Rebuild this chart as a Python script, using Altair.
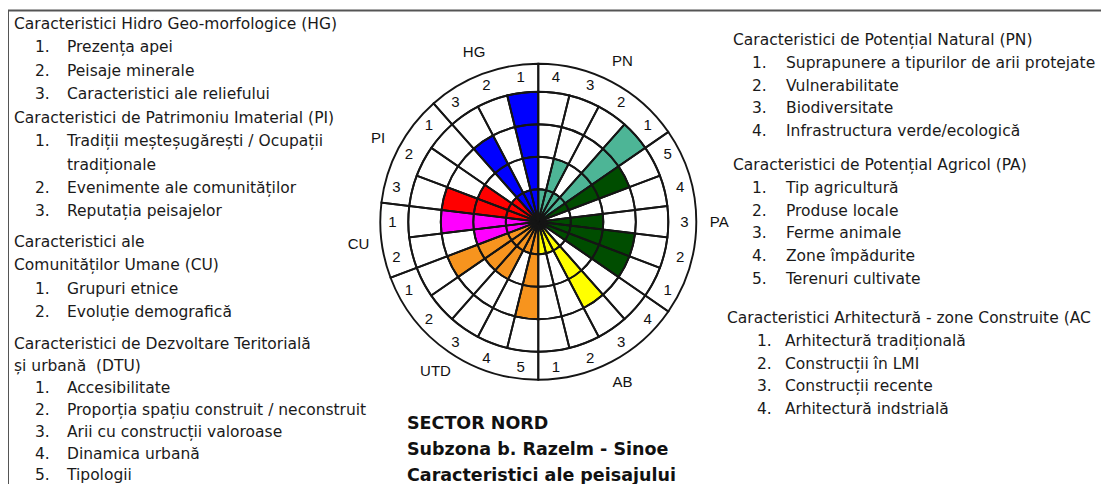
import math
import altair as alt
import pandas as pd

# ---------------- data ----------------
# groups clockwise from 12 o'clock
groups = ["PN", "PA", "AB", "UTD", "CU", "PI", "HG"]
group_colors = ["#4db596", "#004d00", "#ffff00", "#f7941e", "#ff00ff", "#ff0000", "#0000ff"]

# numbers printed in the outer ring, clockwise
pn_numbers = [4, 3, 2, 1]
pa_numbers = [5, 4, 3, 2, 1]
ab_numbers = [4, 3, 2, 1]
utd_numbers = [5, 4, 3, 2, 1]
cu_numbers = [2, 1]
pi_numbers = [3, 2, 1]
hg_numbers = [3, 2, 1]

# score (0-4 rings) of every sector, same order
pn_values = [1, 2, 1, 4]
pa_values = [3, 0, 2, 3, 3]
ab_values = [0, 3, 1, 1]
utd_values = [3, 1, 2, 2, 3]
cu_values = [2, 3]
pi_values = [3, 2, 1]
hg_values = [3, 1, 4]

levels = [1, 2, 3, 4]

# legend texts
hg_head = ["Caracteristici Hidro Geo-morfologice (HG)"]
hg_items = [["Prezența apei"], ["Peisaje minerale"], ["Caracteristici ale reliefului"]]
pi_head = ["Caracteristici de Patrimoniu Imaterial (PI)"]
pi_items = [["Tradiții meșteșugărești / Ocupații", "tradiționale"],
            ["Evenimente ale comunităților"], ["Reputația peisajelor"]]
cu_head = ["Caracteristici ale", "Comunităților Umane (CU)"]
cu_items = [["Grupuri etnice"], ["Evoluție demografică"]]
dtu_head = ["Caracteristici de Dezvoltare Teritorială", "și urbană\u00a0 (DTU)"]
dtu_items = [["Accesibilitate"], ["Proporția spațiu construit / neconstruit"],
             ["Arii cu construcții valoroase"], ["Dinamica urbană"], ["Tipologii"]]
pn_head = ["Caracteristici de Potențial Natural (PN)"]
pn_items = [["Suprapunere a tipurilor de arii protejate"], ["Vulnerabilitate"],
            ["Biodiversitate"], ["Infrastructura verde/ecologică"]]
pa_head = ["Caracteristici de Potențial Agricol (PA)"]
pa_items = [["Tip agricultură"], ["Produse locale"], ["Ferme animale"],
            ["Zone împădurite"], ["Terenuri cultivate"]]
ac_head = ["Caracteristici Arhitectură - zone Construite (AC"]
ac_items = [["Arhitectură tradițională"], ["Construcții în LMI"],
            ["Construcții recente"], ["Arhitectură indstrială"]]
title_lines = ["SECTOR NORD", "Subzona b. Razelm - Sinoe", "Caracteristici ale peisajului"]

# ---------------- tables ----------------
all_numbers = [pn_numbers, pa_numbers, ab_numbers, utd_numbers, cu_numbers, pi_numbers, hg_numbers]
all_values = [pn_values, pa_values, ab_values, utd_values, cu_values, pi_values, hg_values]

sector_rows, cell_rows, group_rows = [], [], []
i = 0
for g, nums, vals in zip(groups, all_numbers, all_values):
    g0 = i
    for n, v in zip(nums, vals):
        sector_rows.append(dict(group=g, num=str(n), value=v, start=i, end=i + 1, mid=i + 0.5))
        for lv in levels:
            cell_rows.append(dict(start=i, end=i + 1, lo=lv - 1, hi=lv))
        i += 1
    group_rows.append(dict(group=g, gstart=g0, gend=i, gmid=(g0 + i) / 2))
n_sectors = i

sectors = pd.DataFrame(sector_rows)
cells = pd.DataFrame(cell_rows)
groups_df = pd.DataFrame(group_rows)

# ---------------- layout ----------------
W, H = 1093, 476
CX, CY = 530.3, 213.7
R_OUT, R_RING = 130, 158
LINE = "#151515"

theta_scale = alt.Scale(domain=[0, n_sectors], range=[0, 2 * math.pi])
radius_scale = alt.Scale(type="linear", domain=[0, len(levels)], range=[0, R_OUT], zero=True)
cx, cy = alt.value(CX), alt.value(CY)

bars = alt.Chart(sectors).mark_arc(stroke=LINE, strokeWidth=1.2).encode(
    theta=alt.Theta("start:Q", scale=theta_scale, stack=False),
    theta2="end:Q",
    radius=alt.Radius("value:Q", scale=radius_scale),
    radius2=alt.value(0),
    color=alt.Color("group:N", scale=alt.Scale(domain=groups, range=group_colors), legend=None),
    x=cx, y=cy,
)

grid = alt.Chart(cells).mark_arc(fillOpacity=0, stroke=LINE, strokeWidth=1.9).encode(
    theta=alt.Theta("start:Q", scale=theta_scale, stack=False),
    theta2="end:Q",
    radius=alt.Radius("hi:Q", scale=radius_scale),
    radius2="lo:Q",
    x=cx, y=cy,
)

ring = alt.Chart(groups_df).mark_arc(fillOpacity=0, stroke=LINE, strokeWidth=1.9).encode(
    theta=alt.Theta("gstart:Q", scale=theta_scale, stack=False),
    theta2="gend:Q",
    radius=alt.value(R_RING),
    radius2=alt.value(R_OUT),
    x=cx, y=cy,
)

num_labels = alt.Chart(sectors).mark_text(
    font="Liberation Sans", fontSize=15, color="#111"
).encode(
    theta=alt.Theta("mid:Q", scale=theta_scale, stack=False),
    radius=alt.value(146),
    text="num:N",
    x=cx, y=cy,
)

group_labels = alt.Chart(groups_df).mark_text(
    font="Liberation Sans", fontSize=15, color="#111"
).encode(
    theta=alt.Theta("gmid:Q", scale=theta_scale, stack=False),
    radius=alt.value(181),
    text="group:N",
    x=cx, y=cy,
)

# ---------------- legend text ----------------
text_rows = []


def block(head, items, y0, step, xh, xn, xi):
    y = y0
    for h in head:
        text_rows.append(dict(px=xh, py=y, txt=h))
        y += step
    for k, item in enumerate(items, 1):
        text_rows.append(dict(px=xn, py=y, txt=f"{k}."))
        for line in item:
            text_rows.append(dict(px=xi, py=y, txt=line))
            y += step


LSTEP, RSTEP = 23.3, 22.8
block(hg_head, hg_items, 16, LSTEP, 6, 27, 59)
block(pi_head, pi_items, 110, LSTEP, 6, 27, 59)
block(cu_head, cu_items, 234, LSTEP, 6, 27, 59)
block(dtu_head, dtu_items, 336, 21.9, 6, 27, 59)
block(pn_head, pn_items, 32, RSTEP, 725, 744, 778)
block(pa_head, pa_items, 157, RSTEP, 725, 744, 778)
block(ac_head, ac_items, 310, RSTEP, 719, 749, 777)
legend_df = pd.DataFrame(text_rows)

title_df = pd.DataFrame(dict(px=[399] * len(title_lines),
                             py=[416 + 26 * k for k in range(len(title_lines))],
                             txt=title_lines))

legend_text = alt.Chart(legend_df).mark_text(
    align="left", baseline="middle", font="DejaVu Sans", fontSize=15.5, color="#1a1a1a"
).encode(
    x=alt.X("px:Q", scale=None, axis=None),
    y=alt.Y("py:Q", scale=None, axis=None),
    text="txt:N",
)

title_text = alt.Chart(title_df).mark_text(
    align="left", baseline="middle", font="DejaVu Sans", fontSize=17.5,
    fontWeight="bold", color="#111"
).encode(
    x=alt.X("px:Q", scale=None, axis=None),
    y=alt.Y("py:Q", scale=None, axis=None),
    text="txt:N",
)

frame_df = pd.DataFrame({"k": [0]})
top_rule = alt.Chart(frame_df).mark_rule(color="#555", strokeWidth=2).encode(
    x=alt.value(0), x2=alt.value(W), y=alt.value(2.5)
)
left_rule = alt.Chart(frame_df).mark_rule(color="#555", strokeWidth=2).encode(
    x=alt.value(0), y=alt.value(2), y2=alt.value(H + 8)
)

chart = alt.layer(
    bars, grid, ring, num_labels, group_labels, legend_text, title_text, top_rule, left_rule
).properties(
    width=W, height=H, autosize=alt.AutoSizeParams(type="none"), padding=0
).configure_view(strokeWidth=0)

chart.save("out.html", embed_options={"renderer": "svg", "actions": False})
